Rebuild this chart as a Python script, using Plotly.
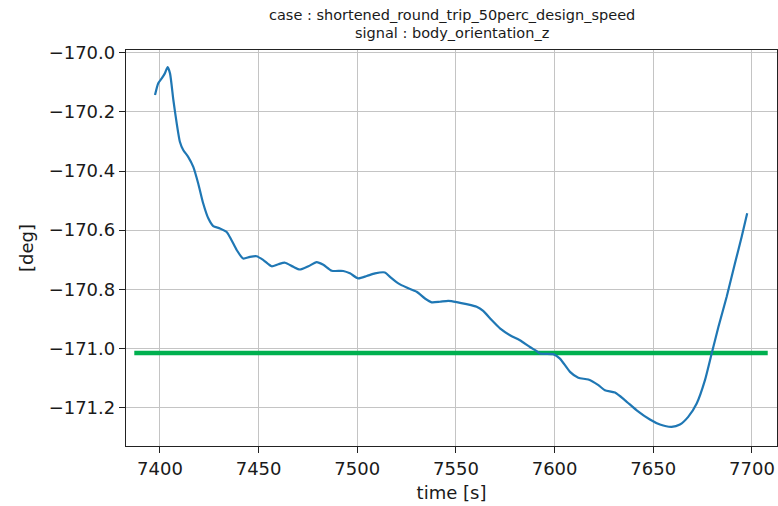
import plotly.graph_objects as go

# body_orientation_z signal over time
time_s = [
    7397.5, 7399.1, 7400.9, 7402.5, 7403.9, 7405.1, 7406.8, 7408.5, 7410.1, 7411.8,
    7414.3, 7416.9, 7419.4, 7421.9, 7424.5, 7427.0, 7430.4, 7433.8, 7436.3, 7438.9,
    7442.2, 7445.6, 7449.0, 7452.4, 7456.6, 7460.0, 7463.4, 7467.6, 7470.9, 7475.2,
    7479.4, 7482.8, 7487.0, 7492.9, 7496.3, 7500.5, 7504.8, 7509.0, 7514.0, 7516.6,
    7520.8, 7525.0, 7530.1, 7534.3, 7537.7, 7541.9, 7546.1, 7550.4, 7555.4, 7560.5,
    7563.8, 7568.1, 7572.3, 7577.4, 7582.4, 7587.5, 7590.9, 7592.6, 7599.3, 7602.7,
    7607.8, 7612.0, 7617.1, 7622.2, 7625.5, 7630.6, 7635.7, 7641.6, 7648.3, 7653.4,
    7659.3, 7663.5, 7667.7, 7672.0, 7676.2, 7679.6, 7683.0, 7687.2, 7691.4, 7694.8,
    7697.6,
]
orientation_deg = [
    -170.143, -170.104, -170.087, -170.070, -170.049, -170.070, -170.160, -170.239, -170.301, -170.329,
    -170.352, -170.386, -170.442, -170.509, -170.560, -170.586, -170.594, -170.606, -170.634, -170.667,
    -170.696, -170.690, -170.688, -170.701, -170.722, -170.715, -170.710, -170.724, -170.733, -170.722,
    -170.708, -170.717, -170.737, -170.738, -170.746, -170.763, -170.755, -170.746, -170.743, -170.758,
    -170.780, -170.794, -170.808, -170.831, -170.844, -170.842, -170.839, -170.843, -170.850, -170.859,
    -170.873, -170.904, -170.932, -170.955, -170.972, -170.995, -171.009, -171.017, -171.019, -171.034,
    -171.079, -171.099, -171.105, -171.124, -171.141, -171.149, -171.175, -171.209, -171.240, -171.257,
    -171.265, -171.257, -171.231, -171.186, -171.107, -171.017, -170.927, -170.825, -170.712, -170.622,
    -170.543,
]

# reference level
ref_time_s = [7387.0, 7708.0]
ref_level_deg = -171.015

x_ticks = [7400, 7450, 7500, 7550, 7600, 7650, 7700]
y_ticks = [-170.0, -170.2, -170.4, -170.6, -170.8, -171.0, -171.2]

title_lines = ["case : shortened_round_trip_50perc_design_speed",
               "signal : body_orientation_z"]

FONT = "DejaVu Sans"
TEXT = "#1a1a1a"

fig = go.Figure()
fig.add_trace(go.Scatter(
    x=ref_time_s, y=[ref_level_deg] * len(ref_time_s),
    mode="lines", line=dict(color="#00b04f", width=4.5), hoverinfo="skip",
))
fig.add_trace(go.Scatter(
    x=time_s, y=orientation_deg, mode="lines",
    line=dict(color="#1f77b4", width=2.2, shape="spline", smoothing=0.6),
))

axis_common = dict(
    showline=True, mirror=True, linecolor="#222222", linewidth=1.3,
    showgrid=True, gridcolor="#c4c4c4", gridwidth=1.3,
    ticks="outside", ticklen=6, tickwidth=1.3, tickcolor="#222222",
    tickfont=dict(family=FONT, size=18, color=TEXT),
    zeroline=False,
)

fig.update_xaxes(
    range=[7382.8, 7712.7], tickvals=x_ticks, ticktext=[str(v) for v in x_ticks],
    title=dict(text="time [s]", font=dict(family=FONT, size=18, color=TEXT), standoff=8),
    **axis_common,
)
fig.update_yaxes(
    range=[-171.3295, -169.991], tickvals=y_ticks,
    ticktext=["\u2212%.1f" % abs(v) for v in y_ticks],
    title=dict(text="[deg]", font=dict(family=FONT, size=18, color=TEXT), standoff=10),
    **axis_common,
)

for i, (line, yp) in enumerate(zip(title_lines, [1.0885, 1.043])):
    fig.add_annotation(
        text=line, xref="paper", yref="paper", x=0.5, y=yp,
        xanchor="center", yanchor="middle", showarrow=False,
        font=dict(family=FONT, size=14.5, color=TEXT),
    )

fig.update_layout(
    width=778, height=506,
    margin=dict(l=126, r=1, t=50, b=60),
    paper_bgcolor="white", plot_bgcolor="white",
    showlegend=False,
)

fig.write_html("out.html")
